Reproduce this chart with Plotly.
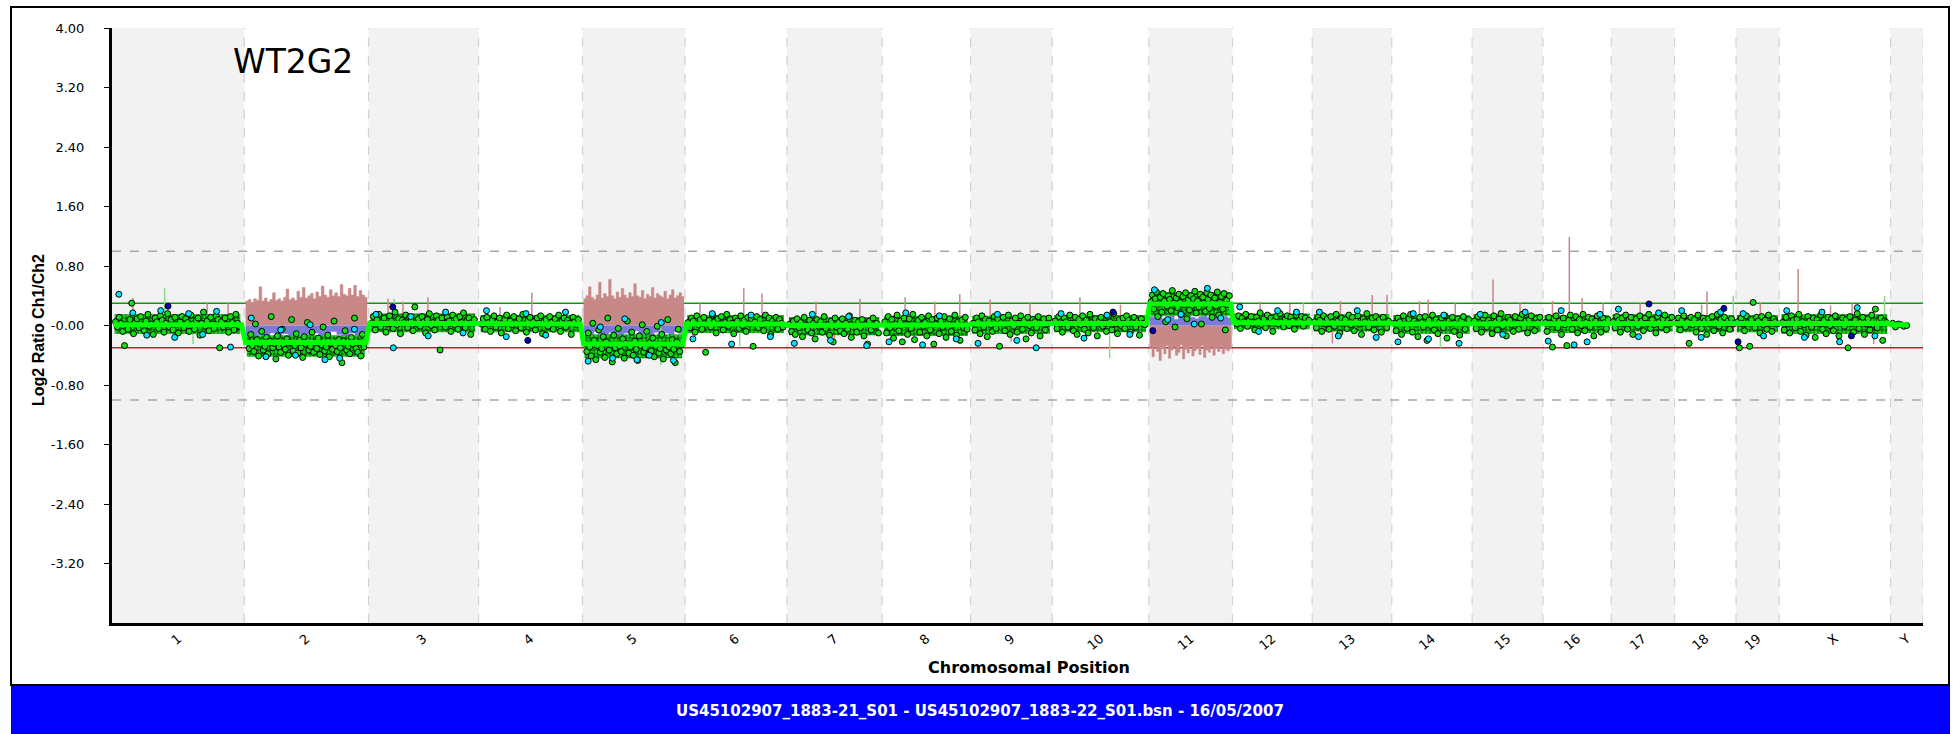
import plotly.graph_objects as go

# ---------------------------------------------------------------------------
# Genome layout (mouse chromosomes, Mb along the genome axis)
# ---------------------------------------------------------------------------
chrom_names = ["1", "2", "3", "4", "5", "6", "7", "8", "9", "10", "11", "12",
               "13", "14", "15", "16", "17", "18", "19", "X", "Y"]
chrom_len_mb = [196, 184, 163, 154, 152, 151, 141, 131, 121, 143, 124, 118,
                118, 119, 105, 101, 94, 91, 64, 165, 48]
# fraction of each chromosome covered by probes
probe_cover_frac = [0.98] * 20 + [0.55]

# segment (moving average) log2 ratio per chromosome
segment_log2 = [.01, -.23, .03, .02, -.25, .02, .00, .01, .02, .03, .29, .04,
                .03, .02, .03, .02, .03, .03, .02, .03, .01]

# spread of the bulk of the probe cloud per chromosome (lower / upper log2)
band_low = [-.11, -.42, -.09, -.09, -.44, -.10, -.13, -.14, -.11, -.09, .13, -.05,
            -.08, -.11, -.09, -.10, -.08, -.09, -.09, -.11, -.02]
band_high = [.15, -.13, .16, .14, -.12, .14, .11, .13, .13, .14, .45, .16,
             .15, .14, .15, .14, .15, .14, .14, .15, .03]

y_tick_vals = [4.0, 3.2, 2.4, 1.6, 0.8, 0.0, -0.8, -1.6, -2.4, -3.2]
y_tick_text = ["4.00", "3.20", "2.40", "1.60", "0.80", "-0.00", "-0.80",
               "-1.60", "-2.40", "-3.20"]

# ---------------------------------------------------------------------------
# Probe log2 ratios (Ch1/Ch2), in genome order within each chromosome
# ---------------------------------------------------------------------------
chr1_log2 = [.05, -.02, .11, .03, -.08, -.27, .01, -.05, .08, .30, -.11, .04, .09, -.03, .12, .00, -.07, .06, .15, -.01,
             .02, -.12, .10, .05, -.04, .13, .07, -.09, .03, .16, -.02, .08, -.06, .11, .01, -.10, .05, .12, -.03, .09,
             .04, -.08, .14, .02, -.05, .07, .10, -.13, .03, .18, -.01, .06, -.07, .11, .02, -.04, .13, .08, -.30, .05,
             -.02, .10, .01, -.09, .12, .04, -.06, .15, .03, -.01]
chr2_log2 = [-.22, -.31, -.12, -.27, -.35, .02, -.19, -.41, -.25, -.08, -.33, -.28, -.16, -.38, -.21, .12, -.30, -.24, -.45, -.14,
             -.29, -.36, -.05, -.26, -.32, -.18, -.40, -.23, .08, -.34, -.27, -.11, -.37, -.20, -.30, -.43, -.15, -.25, .04, -.33,
             -.28, -.09, -.36, -.22, -.31, -.17, -.39, -.26, -.02, -.34, -.29, -.13, -.42, -.24, -.32, .06, -.27, -.35, -.19, -.30,
             -.50, -.21, -.07, -.33, -.28, -.38, -.16, -.25, .10, -.31, -.36, -.23, -.41, -.12, -.29]
chr3_log2 = [.03, .12, -.06, .08, .15, -.02, .05, .10, -.09, .02, .13, .06, -.04, .18, .01, .09, -.11, .07, .04, .14,
             -.03, .11, .06, -.07, .25, .02, .09, -.01, .12, .05, -.10, .08, .16, .00, .04, -.06, .13, .07, -.33, .10,
             .03, -.02, .11, .06, -.08, .14, .01, .09, -.05, .12, .04, .17, -.03, .07, .10, -.12, .05, .08]
chr4_log2 = [.02, .09, -.05, .11, .04, -.08, .07, .13, -.02, .05, .10, -.10, .03, .08, .14, -.04, .06, .01, .12, -.07,
             .04, .09, -.03, .15, .02, -.09, .07, .11, .00, .05, -.06, .10, .03, .13, -.11, .06, .08, -.01, .12, .04,
             -.05, .09, .02, .14, -.08, .06, .10, -.02, .07, .03, -.12, .11, .05, .01, .08]
chr5_log2 = [-.24, -.35, -.10, -.29, -.41, .03, -.20, -.46, -.27, -.06, -.36, -.31, -.15, -.43, -.22, .10, -.33, -.26, -.49, -.13,
             -.30, -.38, -.04, -.28, -.35, -.18, -.44, -.24, .06, -.37, -.29, -.09, -.40, -.21, -.32, -.47, -.14, -.27, .01, -.36,
             -.30, -.08, -.39, -.23, -.34, -.17, -.42, -.28, -.01, -.37, -.31, -.12, -.45, -.25, -.33, .08, -.29, -.38, -.19, -.32,
             -.50, -.22, -.05, -.35, -.26]
chr6_log2 = [.04, -.03, .10, .06, -.09, .13, .01, .08, -.05, .11, -.36, .03, .07, -.02, .14, .05, -.10, .09, .02, .12,
             -.06, .04, .15, -.01, .08, .03, -.11, .10, .06, -.04, .13, .00, .07, -.08, .11, .02, .09, -.28, .05, .12,
             -.03, .08, .01, -.07, .14, .04, .10, -.12, .06, .02, .11, -.05, .08, .03, -.02]
chr7_log2 = [.02, -.08, .06, -.12, .09, -.03, .04, -.15, .11, .00, -.06, .07, -.10, .03, -.18, .08, -.01, .05, -.09, .12,
             -.04, .01, -.13, .06, -.22, .10, -.02, .04, -.07, .09, -.11, .03, -.05, .13, -.16, .02, .07, -.09, .05, -.03,
             .08, -.14, .01, -.25, .06, -.06, .10, -.01, .03, -.10]
chr8_log2 = [.05, -.10, .12, -.03, .08, -.17, .02, .14, -.07, .06, -.22, .10, .01, -.12, .09, -.04, .15, -.19, .03, .07,
             -.09, .11, -.01, .04, -.14, .13, -.06, .08, -.25, .02, .10, -.11, .06, -.02, .12, -.16, .04, .09, -.08, .01,
             .14, -.13, .05, -.20, .07, -.03, .11, -.05]
chr9_log2 = [.03, -.06, .10, .05, -.11, .13, -.02, .08, -.15, .06, .01, -.08, .12, -.04, .09, -.28, .04, .11, -.07, .02,
             .14, -.12, .06, -.01, .10, -.09, .03, .13, -.05, .07, -.18, .11, .00, -.10, .08, .05, -.03, .12, -.14, .04,
             .09, -.06, .02, .10]
chr10_log2 = [.06, -.04, .12, .02, -.09, .10, .05, -.02, .14, .03, -.07, .11, -.12, .08, .01, .13, -.05, .07, -.10, .15,
              .04, -.03, .09, -.14, .06, .11, -.01, .03, -.08, .12, .05, -.06, .16, .02, -.11, .08, .00, .10, -.04, .13,
              .07, -.09, .04, .11, -.02, .06, -.13, .09, .03, .01]
chr11_log2 = [.32, .41, .22, .36, .45, .12, .29, .38, .18, .43, .33, .05, .26, .40, .35, .20, .47, .30, -.02, .37,
              .24, .42, .31, .15, .39, .28, .44, .09, .34, .21, .40, .27, .36, .46, .17, .33, .25, .42, .02, .38,
              .30, .19, .44, .35, .23, .41, .11, .32, .37, .26, .45, .14, .31, .39, .22, .43, -.06, .34, .28, .40]
chr12_log2 = [.08, .02, .13, -.04, .10, .05, .15, -.01, .07, .12, .03, -.06, .11, .06, .17, .01, .09, -.03, .14, .04,
              .10, -.08, .07, .12, .02, .16, .05, -.02, .09, .13, .00, .11, .06, -.05, .14, .03, .08, .12, -.01, .10,
              .04, .07]
chr13_log2 = [.05, -.03, .11, .07, -.08, .13, .02, .09, -.05, .12, .04, -.01, .15, .06, -.10, .10, .03, .08, -.04, .14,
              .01, .11, -.07, .06, .13, .02, -.12, .09, .05, .16, -.02, .07, .10, -.06, .12, .03, .08, -.09, .11, .04,
              -.03, .06]
chr14_log2 = [.03, -.07, .10, .05, -.12, .13, .01, -.04, .09, .15, -.09, .06, .02, -.15, .11, .04, -.02, .12, -.20, .07,
              .00, .14, -.06, .08, -.11, .05, .10, -.03, .13, -.17, .06, .02, .11, -.08, .04, .09, -.13, .07, .12, -.05,
              .03, .08]
chr15_log2 = [.06, -.04, .12, .02, -.09, .10, .14, -.02, .07, .03, -.11, .13, .05, -.06, .09, .16, -.01, .04, -.14, .11,
              .07, .01, -.08, .12, .03, -.05, .10, .15, -.03, .06, -.10, .08, .13, .02, -.07, .09, .04, .11]
chr16_log2 = [.04, -.08, .11, .02, -.29, .09, .13, -.03, .06, -.12, .10, .01, -.27, .07, .14, -.05, .03, .12, -.10, .08,
              .00, .15, -.07, .05, .11, -.02, .09, -.14, .06, .13, .02, -.09, .10, .04, -.04, .08]
chr17_log2 = [.05, -.03, .12, .07, -.09, .10, .02, .14, -.05, .08, .11, -.12, .04, .09, -.01, .13, .06, -.07, .10, .03,
              .15, -.04, .08, .01, -.10, .12, .05, -.02, .09, .14, -.06, .07, .03, .11]
chr18_log2 = [.03, .10, -.06, .07, .13, -.02, .05, -.24, .11, .01, .08, -.09, .14, .04, -.04, .10, .06, -.12, .09, .02,
              .12, -.07, .05, .15, -.01, .08, -.10, .11, .03, .06, -.05, .09, .02]
chr19_log2 = [.05, -.30, .10, .02, -.07, .13, .04, -.28, .08, .31, -.03, .11, .06, -.10, .12, .01, .07, -.05, .14, .03,
              -.08, .09, .05, .02]
chrX_log2 = [.04, -.06, .11, .02, -.10, .13, .07, -.03, .09, .15, -.08, .05, .01, -.13, .12, .06, -.02, .10, -.16, .08,
             .03, .14, -.05, .07, -.11, .11, .00, .09, -.07, .13, .04, -.14, .06, .10, -.01, .08, -.30, .12, .03, -.09,
             .07, .16, -.04, .05, .11, -.12, .02, .09, -.06, .14, .01, .22, -.03, .08, .10, -.20, .06, .04]
chrY_log2 = [.03, -.02, .02, .01, -.01, .00]

# flagged probes (drawn in cyan)
chr1_flag = [.42, .17, -.13, .20, -.16, .16, -.12, .19, -.29]
chr2_flag = [.10, -.42, -.06, -.40, .01, -.46, -.44, -.05]
chr3_flag = [.15, -.30, .12, -.14, .18, -.10]
chr4_flag = [.20, -.15, .16, -.13, .18]
chr5_flag = [-.48, -.02, -.44, .09, -.46, -.40, .04, -.47]
chr6_flag = [-.18, .16, -.25, .14, -.15]
chr7_flag = [-.24, .15, -.20, .12, -.27]
chr8_flag = [-.22, .17, -.26, .13, -.18]
chr9_flag = [-.24, .15, -.20, -.30]
chr10_flag = [.16, -.17, .14, -.12]
chr11_flag = [.48, .08, .15, .02, .50, .10]
chr12_flag = [.25, -.08, .20, .18]
chr13_flag = [.18, -.14, .20, -.16]
chr14_flag = [-.22, .16, -.18, .14, -.24]
chr15_flag = [.15, -.12, .18]
chr16_flag = [-.21, .20, -.26, -.22, .15]
chr17_flag = [.22, -.15, .17]
chr18_flag = [.20, -.16, .18]
chr19_flag = [.16, -.14]
chrX_flag = [.20, -.16, .18, -.22, .24, -.14]
chrY_flag = []

# probes marked dark blue: chromosome, position (Mb), log2 ratio
dark_chrom = ["1", "3", "4", "10", "11", "17", "18", "19", "X"]
dark_mb = [83, 36, 73, 90, 6, 56, 73, 3, 107]
dark_log2 = [.26, .25, -.20, .18, -.07, .29, .23, -.22, -.14]

# aberration profiles (gain shown in rose, loss in lavender)
chr2_red = [.33, .35, .31, .36, .34, .52, .33, .37, .32, .35, .44, .34, .36, .33, .38, .49, .35, .37, .34, .46,
            .38, .51, .37, .40, .43, .36, .45, .39, .53, .41, .38, .48, .40, .44, .39, .55, .42, .40, .50, .41,
            .54, .39, .47, .41, .38]
chr2_blue = [-.16, -.14, -.12, -.15, -.10, -.13, -.11, -.14, -.09, -.12, -.15, -.10, -.13, -.11, -.08, -.12, -.14,
             -.10, -.13, -.09]
chr5_red = [.36, .40, .52, .38, .35, .41, .58, .37, .43, .39, .62, .40, .36, .45, .38, .50, .41, .37, .44, .39,
            .56, .40, .38, .47, .36, .42, .39, .51, .37, .43, .40, .38, .46, .36, .41, .48, .37, .40, .44, .39]
chr5_blue = [-.10, -.13, -.08, -.12, -.15, -.09, -.11, -.14, -.10, -.12, -.07, -.13, -.11, -.15, -.09, -.12, -.10,
             -.14, -.08, -.11]
chr11_red = [-.30, -.42, -.28, -.35, -.47, -.31, -.38, -.27, -.44, -.33, -.29, -.40, -.36, -.26, -.45, -.32, -.37,
             -.28, -.41, -.34, -.30, -.39, -.27, -.43, -.33, -.36, -.29, -.40, -.31, -.35, -.28, -.38, -.32, -.34, -.30]
chr11_blue = [.12, .10, .13, .09, .11, .14, .08, .12, .10, .13, .11, .09, .12, .14, .10, .11, .13, .09, .12, .10]

# single-probe excursions of the red channel: chromosome, position (Mb), log2 ratio
red_spike_chrom = ["1", "1", "1", "1", "3", "3", "3", "4", "4", "6", "6", "6", "7", "7", "7", "8", "8", "8",
                   "9", "9", "9", "10", "10", "12", "12", "13", "13", "13", "13", "14", "14", "14", "15", "15",
                   "16", "16", "16", "16", "17", "18", "18", "19", "X", "X", "X", "X"]
red_spike_mb = [31, 70, 141, 172, 29, 51, 88, 32, 79, 22, 87, 114, 43, 70, 108, 34, 78, 115,
                29, 60, 88, 41, 101, 41, 85, 30, 42, 89, 111, 41, 54, 94, 31, 71,
                14, 39, 58, 89, 43, 40, 48, 36, 28, 76, 108, 140]
red_spike_log2 = [.37, .22, .30, .30, .36, .32, .38, .25, .44, .30, .50, .43, .32, -.26, .36, .38, .32, .42,
                  .35, -.22, .30, .38, .28, .32, .29, -.24, .33, .41, .41, .33, .35, .30, .62, .30,
                  .33, 1.19, .37, .30, .30, .28, .46, .30, .76, .27, .30, -.25]

# single-probe excursions of the green channel
green_spike_chrom = ["1", "1", "3", "5", "6", "10", "12", "14", "18", "X"]
green_spike_mb = [78, 120, 38, 116, 81, 85, 105, 72, 87, 156]
green_spike_log2 = [.50, -.25, .36, -.53, -.28, -.44, .30, -.30, .40, .40]

# ---------------------------------------------------------------------------
probe_log2 = [chr1_log2, chr2_log2, chr3_log2, chr4_log2, chr5_log2, chr6_log2, chr7_log2,
              chr8_log2, chr9_log2, chr10_log2, chr11_log2, chr12_log2, chr13_log2, chr14_log2,
              chr15_log2, chr16_log2, chr17_log2, chr18_log2, chr19_log2, chrX_log2, chrY_log2]
flag_log2 = [chr1_flag, chr2_flag, chr3_flag, chr4_flag, chr5_flag, chr6_flag, chr7_flag,
             chr8_flag, chr9_flag, chr10_flag, chr11_flag, chr12_flag, chr13_flag, chr14_flag,
             chr15_flag, chr16_flag, chr17_flag, chr18_flag, chr19_flag, chrX_flag, chrY_flag]

chrom_start = []
acc = 0
for length in chrom_len_mb:
    chrom_start.append(acc)
    acc += length
genome_len = acc
start_of = dict(zip(chrom_names, chrom_start))


def probe_positions(i, n, shift=0.5):
    s, L = chrom_start[i], chrom_len_mb[i]
    lo, hi = 0.02, probe_cover_frac[i] - 0.01
    return [s + L * (lo + (hi - lo) * (k + shift) / n) for k in range(n)]


def profile(i, vals):
    s, L = chrom_start[i], chrom_len_mb[i]
    lo, hi = 0.01, 0.99
    n = len(vals)
    xs = [s + L * (lo + (hi - lo) * k / n) for k in range(n + 1)]
    return xs, list(vals) + [vals[-1]]


def spikes(chroms, mbs, vals):
    xs, ys = [], []
    for c, m, v in zip(chroms, mbs, vals):
        x = start_of[c] + m
        xs += [x, x, None]
        ys += [0, v, None]
    return xs, ys


PINK = "#c98888"
LAVENDER = "#7a7ad8"
BRIGHT = "#00ff00"
DOT_GREEN = "#10e010"

fig = go.Figure()

# aberration fills
for i, red, blue in [(1, chr2_red, chr2_blue), (4, chr5_red, chr5_blue), (10, chr11_red, chr11_blue)]:
    rx, ry = profile(i, red)
    fig.add_trace(go.Scatter(x=rx, y=ry, mode="lines", line=dict(shape="hv", width=0.5, color=PINK),
                             fill="tozeroy", fillcolor=PINK, hoverinfo="skip", showlegend=False))
    bx, by = profile(i, blue)
    fig.add_trace(go.Scatter(x=bx, y=by, mode="lines", line=dict(shape="hv", width=0.5, color=LAVENDER),
                             fill="tozeroy", fillcolor=LAVENDER, hoverinfo="skip", showlegend=False))

# channel excursions
sx, sy = spikes(red_spike_chrom, red_spike_mb, red_spike_log2)
fig.add_trace(go.Scatter(x=sx, y=sy, mode="lines", line=dict(color=PINK, width=1.5),
                         hoverinfo="skip", showlegend=False))
gx, gy = spikes(green_spike_chrom, green_spike_mb, green_spike_log2)
fig.add_trace(go.Scatter(x=gx, y=gy, mode="lines", line=dict(color="#8fd88f", width=1.5),
                         hoverinfo="skip", showlegend=False))

# bulk of the probe cloud per chromosome, drawn as a dotted band
bx_all, by_all = [], []
for i, (lo_v, hi_v) in enumerate(zip(band_low, band_high)):
    s, L = chrom_start[i], chrom_len_mb[i]
    x0, x1 = s + 0.02 * L, s + (probe_cover_frac[i] - 0.01) * L
    bx_all += [x0, x1, x1, x0, x0, None]
    by_all += [lo_v, lo_v, hi_v, hi_v, lo_v, None]
fig.add_trace(go.Scatter(x=bx_all, y=by_all, mode="lines", line=dict(width=0, color=DOT_GREEN),
                         fill="toself", fillcolor=DOT_GREEN,
                         fillpattern=dict(shape=".", fgcolor="black", bgcolor=DOT_GREEN,
                                          size=4, solidity=0.55),
                         hoverinfo="skip", showlegend=False))

# probes
px_all, py_all = [], []
for i, vals in enumerate(probe_log2):
    px_all += probe_positions(i, len(vals))
    py_all += vals
fig.add_trace(go.Scatter(x=px_all, y=py_all, mode="markers",
                         marker=dict(size=6, color=DOT_GREEN, line=dict(color="black", width=1)),
                         showlegend=False))

fx_all, fy_all = [], []
for i, vals in enumerate(flag_log2):
    if vals:
        fx_all += probe_positions(i, len(vals), shift=0.3)
        fy_all += vals
fig.add_trace(go.Scatter(x=fx_all, y=fy_all, mode="markers",
                         marker=dict(size=6, color="#00e5ff", line=dict(color="black", width=1)),
                         showlegend=False))

fig.add_trace(go.Scatter(x=[start_of[c] + m for c, m in zip(dark_chrom, dark_mb)], y=dark_log2,
                         mode="markers",
                         marker=dict(size=6, color="#0000b8", line=dict(color="black", width=1)),
                         showlegend=False))

# moving average across the genome
seg_x, seg_y = [], []
for i, v in enumerate(segment_log2):
    s, L = chrom_start[i], chrom_len_mb[i]
    seg_x += [s + 0.01 * L, s + probe_cover_frac[i] * L]
    seg_y += [v, v]
fig.add_trace(go.Scatter(x=seg_x, y=seg_y, mode="lines", line=dict(color=BRIGHT, width=5),
                         hoverinfo="skip", showlegend=False))

# ---------------------------------------------------------------------------
# Background bands, reference lines and frame
# ---------------------------------------------------------------------------
shapes = []
for i, (s, L) in enumerate(zip(chrom_start, chrom_len_mb)):
    if i % 2 == 0:
        shapes.append(dict(type="rect", xref="x", yref="paper", x0=s, x1=s + L, y0=0, y1=1,
                           fillcolor="#f2f2f2", line=dict(width=0), layer="below"))
for s in chrom_start[1:] + [genome_len]:
    shapes.append(dict(type="line", xref="x", yref="paper", x0=s, x1=s, y0=0, y1=1,
                       line=dict(color="#d2d2d2", width=1.2, dash="dash"), layer="below"))
for yv in (1.0, -1.0):
    shapes.append(dict(type="line", xref="paper", yref="y", x0=0, x1=1, y0=yv, y1=yv,
                       line=dict(color="#a8a8a8", width=1.5, dash="dash"), layer="below"))
shapes.append(dict(type="line", xref="paper", yref="y", x0=0, x1=1, y0=0.3, y1=0.3,
                   line=dict(color="#129612", width=1.5), layer="below"))
shapes.append(dict(type="line", xref="paper", yref="y", x0=0, x1=1, y0=-0.3, y1=-0.3,
                   line=dict(color="#a83030", width=1.5), layer="below"))

W, H = 1954, 734
ML, MR, MT, MB = 112, 31, 28, 111
PW, PH = W - ML - MR, H - MT - MB


def paper_x(p):
    return (p - ML) / PW


def paper_y(p):
    return (H - MB - p) / PH


shapes.append(dict(type="rect", xref="paper", yref="paper",
                   x0=paper_x(11), x1=paper_x(1950), y0=paper_y(734), y1=paper_y(685),
                   fillcolor="#0000ff", line=dict(width=0)))
shapes.append(dict(type="rect", xref="paper", yref="paper",
                   x0=paper_x(11), x1=paper_x(1949), y0=paper_y(685), y1=paper_y(7),
                   line=dict(color="black", width=2)))

annotations = [
    dict(text="WT2G2", xref="paper", yref="paper", x=paper_x(293), y=paper_y(61),
         xanchor="center", yanchor="middle", showarrow=False,
         font=dict(family="DejaVu Sans", size=33, color="black")),
    dict(text="Log2 Ratio Ch1/Ch2", xref="paper", yref="paper", x=paper_x(38), y=paper_y(330),
         textangle=-90, xanchor="center", yanchor="middle", showarrow=False,
         font=dict(family="Liberation Sans", size=16, color="black", weight="bold")),
    dict(text="Chromosomal Position", xref="paper", yref="paper", x=paper_x(1029), y=paper_y(667),
         xanchor="center", yanchor="middle", showarrow=False,
         font=dict(family="DejaVu Sans", size=16, color="black", weight="bold")),
    dict(text="US45102907_1883-21_S01 - US45102907_1883-22_S01.bsn - 16/05/2007",
         xref="paper", yref="paper", x=paper_x(980), y=paper_y(711),
         xanchor="center", yanchor="middle", showarrow=False,
         font=dict(family="DejaVu Sans", size=15, color="white", weight="bold")),
]

fig.update_layout(
    width=W, height=H,
    margin=dict(l=ML, r=MR, t=MT, b=MB, pad=0),
    paper_bgcolor="white", plot_bgcolor="white",
    shapes=shapes, annotations=annotations,
    showlegend=False,
    xaxis=dict(range=[0, genome_len], showgrid=False, zeroline=False,
               showline=True, linecolor="black", linewidth=3,
               tickmode="array",
               tickvals=[s + L / 2 for s, L in zip(chrom_start, chrom_len_mb)],
               ticktext=chrom_names, tickangle=-40, ticks="",
               tickfont=dict(family="DejaVu Sans", size=13, color="black")),
    yaxis=dict(range=[-4, 4], showgrid=False, zeroline=False,
               showline=True, linecolor="black", linewidth=3,
               tickmode="array", tickvals=y_tick_vals, ticktext=y_tick_text,
               ticks="outside", ticklen=5, tickcolor="black", tickwidth=1,
               ticklabelstandoff=17,
               tickfont=dict(family="DejaVu Sans", size=13, color="black")),
)

fig.write_html("out.html")
